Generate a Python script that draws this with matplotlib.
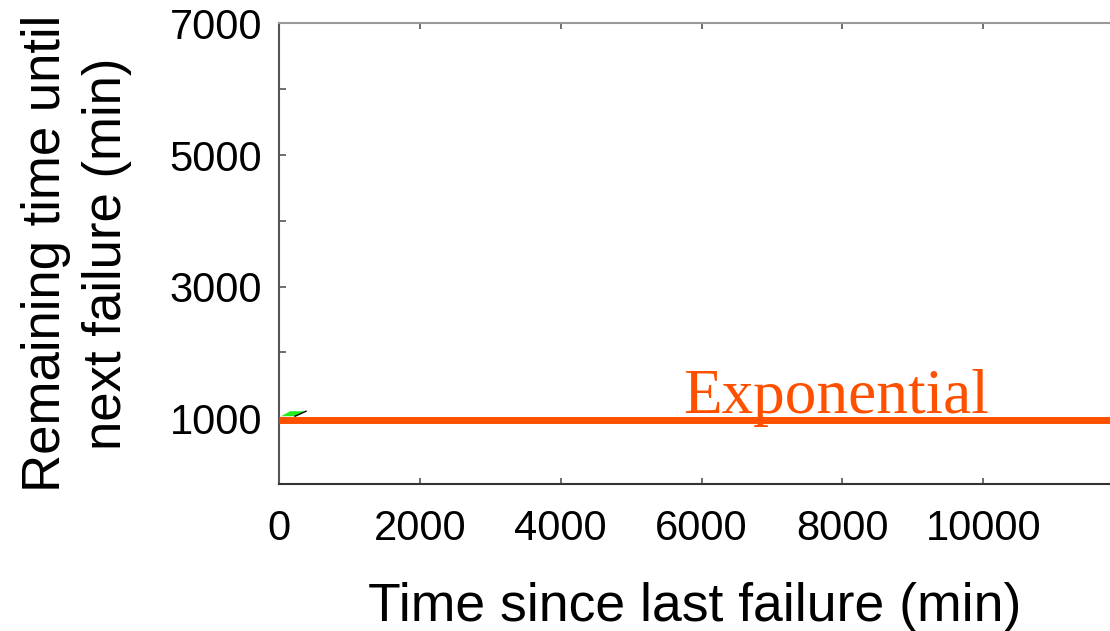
import matplotlib
matplotlib.use("Agg")
import matplotlib.pyplot as plt

# exponential model: constant expected remaining time
exp_x = [0, 11800]
exp_y = [980, 980]

# short empirical segment near the origin (filled band + its edge)
emp_band_x = [28, 156, 369, 227]
emp_band_y = [1030, 1106, 1106, 1030]
emp_edge_x = [227, 384]
emp_edge_y = [1030, 1106]

x_ticks = [0, 2000, 4000, 6000, 8000, 10000]
y_ticks = [0, 1000, 2000, 3000, 4000, 5000, 6000, 7000]
y_tick_labels = ["", "1000", "", "3000", "", "5000", "", "7000"]

plt.rcParams["font.family"] = ["Liberation Sans", "DejaVu Sans"]

fig = plt.figure(figsize=(11.1, 6.31), dpi=100)
ax = fig.add_axes([0.2514, 0.2330, 0.7486, 0.7298])

ax.fill(emp_band_x, emp_band_y, color="#22ee22", lw=0, zorder=2)
ax.plot(emp_edge_x, emp_edge_y, color="black", lw=1.0, zorder=2)
ax.plot(exp_x, exp_y, color="#ff5000", lw=5, solid_capstyle="butt", zorder=3)

ax.text(5739, 1076, "Exponential", color="#ff5000", fontsize=45.5,
        family=["Liberation Serif", "DejaVu Serif"], va="baseline", ha="left")

ax.set_xlim(0, 11800)
ax.set_ylim(0, 7000)
ax.set_xticks(x_ticks)
ax.set_yticks(y_ticks)
ax.set_yticklabels(y_tick_labels)

ax.tick_params(axis="both", direction="in", labelsize=30, colors="#555555",
               labelcolor="black", width=1.2)
ax.tick_params(axis="x", length=4, pad=18, top=True)
ax.tick_params(axis="y", length=5, pad=12)

ax.spines["right"].set_visible(False)
ax.spines["left"].set_color("#555555")
ax.spines["bottom"].set_color("#333333")
ax.spines["top"].set_color("#999999")
for side in ("left", "bottom", "top"):
    ax.spines[side].set_linewidth(1.5)

ax.set_xlabel("Time since last failure (min)", fontsize=38.5, labelpad=24)
ax.set_ylabel("Remaining time until\nnext failure (min)", fontsize=38,
              labelpad=27, linespacing=1.3)

fig.savefig("out.png", dpi=100)
